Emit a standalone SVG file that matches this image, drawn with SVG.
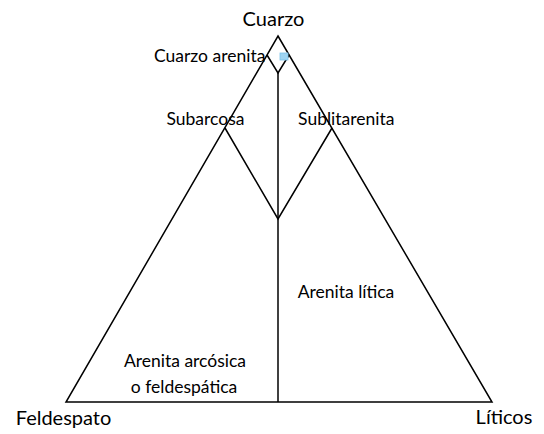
<svg xmlns="http://www.w3.org/2000/svg" width="544" height="434" viewBox="0 0 544 434">
<style>
.ln{fill:none;stroke:#000;stroke-width:1.5;stroke-linejoin:miter}
text{font-family:Lato,"Liberation Sans",sans-serif;fill:#000;text-anchor:middle}
.l{font-size:17.5px}
.v{font-size:20px}
</style>
<rect width="544" height="434" fill="#fff"/>
<g id="connectors">
<path class="ln" d="M278,36 L492,402 L66,402 Z"/>
<path class="ln" d="M267,55 L278,73 L289,55"/>
<path class="ln" d="M225,128 L278,219 L332,128"/>
<path class="ln" d="M278,73 L278,402"/>
</g>
<g id="marker-blue"><rect x="280" y="53" width="8" height="7" fill="#9fd4f2" stroke="#7cc3ea" stroke-width="0.8"/></g>
<g id="cuarzo"><text class="v" x="273.5" y="26">Cuarzo</text></g>
<g id="feldespato"><text class="v" x="63.5" y="425">Feldespato</text></g>
<g id="liticos"><text class="v" x="504" y="424">Líticos</text></g>
<g id="cuarzo-arenita"><text class="l" x="209.7" y="62">Cuarzo arenita</text></g>
<g id="subarcosa"><text class="l" x="205.5" y="125">Subarcosa</text></g>
<g id="sublitarenita"><text class="l" x="346.3" y="125">Sublitarenita</text></g>
<g id="arenita-litica"><text class="l" x="346" y="298">Arenita lítica</text></g>
<g id="arenita-arcosica"><text class="l" x="185" y="367">Arenita arcósica</text><text class="l" x="184" y="393">o feldespática</text></g>
</svg>
